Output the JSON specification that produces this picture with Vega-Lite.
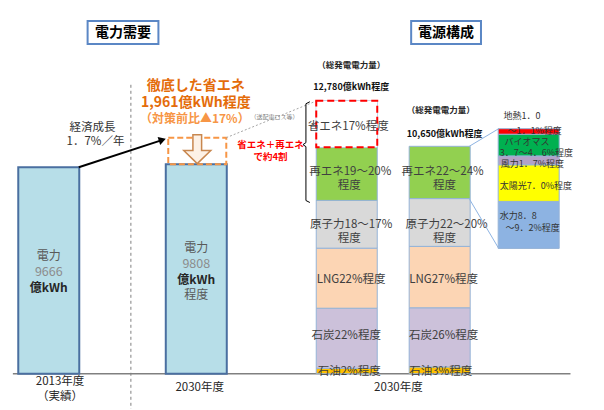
{
  "$schema": "https://vega.github.io/schema/vega-lite/v6.json",
  "width": 604,
  "height": 410,
  "autosize": {"type": "fit", "contains": "padding"},
  "padding": 0,
  "background": "white",
  "config": {"view": {"stroke": null}, "font": "Noto Sans CJK JP", "text": {"font": "Noto Sans CJK JP"}},
  "resolve": {"scale": {"y": "independent", "fill": "independent"}},
  "layer": [
    {
      "layer": [
        {
          "data": {"values": [{"x": 128, "y": 13530, "y2": -1650}]},
          "mark": {"type": "rule", "stroke": "#7f7f7f", "strokeDash": [3, 3], "strokeWidth": 1},
          "encoding": {
            "x": {"field": "x", "type": "quantitative", "scale": {"domain": [0, 604], "nice": false, "zero": false}, "axis": null},
            "y": {"field": "y", "type": "quantitative", "scale": {"domain": [-1650, 17500], "nice": false, "zero": false}, "axis": null},
            "y2": {"field": "y2"}
          }
        },
        {
          "data": {"values": [{"x": 8, "x2": 575, "y": 0}]},
          "mark": {"type": "rule", "stroke": "#808080", "strokeWidth": 1.5},
          "encoding": {
            "x": {"field": "x", "type": "quantitative", "scale": {"domain": [0, 604], "nice": false, "zero": false}, "axis": null},
            "x2": {"field": "x2"},
            "y": {"field": "y", "type": "quantitative", "scale": {"domain": [-1650, 17500], "nice": false, "zero": false}, "axis": null}
          }
        },
        {
          "data": {"values": [{"year": "2013年度", "x": 44.5, "y": 9666}, {"year": "2030年度", "x": 194.5, "y": 9808}]},
          "mark": {"type": "bar", "width": 61, "fill": "#b7dee8", "stroke": "#4a6fa0", "strokeWidth": 2},
          "encoding": {
            "x": {"field": "x", "type": "quantitative", "scale": {"domain": [0, 604], "nice": false, "zero": false}, "axis": null},
            "y": {"field": "y", "type": "quantitative", "scale": {"domain": [-1650, 17500], "nice": false, "zero": false}, "axis": null},
            "y2": {"datum": 0}
          }
        },
        {
          "data": {"values": [{"x": 166, "x2": 225, "y": 9808, "y2": 11054}]},
          "mark": {"type": "rect", "fill": "white", "fillOpacity": 0, "stroke": "#f79646", "strokeDash": [6, 3], "strokeWidth": 2},
          "encoding": {
            "x": {"field": "x", "type": "quantitative", "scale": {"domain": [0, 604], "nice": false, "zero": false}, "axis": null},
            "x2": {"field": "x2"},
            "y": {"field": "y", "type": "quantitative", "scale": {"domain": [-1650, 17500], "nice": false, "zero": false}, "axis": null},
            "y2": {"field": "y2"}
          }
        },
        {
          "data": {"values": [{"x": 195.5, "y": 10517}]},
          "mark": {"type": "point", "shape": "M-0.3,-1 L0.3,-1 L0.3,0.1 L0.93,0.1 L0,1 L-0.93,0.1 L-0.3,0.1 Z", "size": 841, "filled": true, "fill": "#fdf1e6", "stroke": "#c8874f", "strokeWidth": 1.5, "opacity": 1},
          "encoding": {
            "x": {"field": "x", "type": "quantitative", "scale": {"domain": [0, 604], "nice": false, "zero": false}, "axis": null},
            "y": {"field": "y", "type": "quantitative", "scale": {"domain": [-1650, 17500], "nice": false, "zero": false}, "axis": null}
          }
        },
        {
          "data": {"values": [{"x": 75, "y": 9666, "o": 1}, {"x": 158, "y": 10914, "o": 2}]},
          "mark": {"type": "line", "stroke": "black", "strokeWidth": 2},
          "encoding": {
            "x": {"field": "x", "type": "quantitative", "scale": {"domain": [0, 604], "nice": false, "zero": false}, "axis": null},
            "y": {"field": "y", "type": "quantitative", "scale": {"domain": [-1650, 17500], "nice": false, "zero": false}, "axis": null},
            "order": {"field": "o"}
          }
        },
        {
          "data": {"values": [{"x": 160, "y": 10947}]},
          "mark": {"type": "point", "shape": "triangle-right", "angle": 342, "size": 70, "filled": true, "fill": "black", "opacity": 1},
          "encoding": {
            "x": {"field": "x", "type": "quantitative", "scale": {"domain": [0, 604], "nice": false, "zero": false}, "axis": null},
            "y": {"field": "y", "type": "quantitative", "scale": {"domain": [-1650, 17500], "nice": false, "zero": false}, "axis": null}
          }
        },
        {
          "data": {"values": [{"x": 225, "y": 11054, "x2": 317, "y2": 12780}]},
          "mark": {"type": "rule", "stroke": "#a6a6a6", "strokeDash": [2, 2], "strokeWidth": 1},
          "encoding": {
            "x": {"field": "x", "type": "quantitative", "scale": {"domain": [0, 604], "nice": false, "zero": false}, "axis": null},
            "x2": {"field": "x2"},
            "y": {"field": "y", "type": "quantitative", "scale": {"domain": [-1650, 17500], "nice": false, "zero": false}, "axis": null},
            "y2": {"field": "y2"}
          }
        },
        {
          "data": {"values": [
            {"x": 310, "y": 12736, "o": 1},
            {"x": 306, "y": 12642, "o": 2},
            {"x": 306, "y": 10821, "o": 3},
            {"x": 303, "y": 10727, "o": 4},
            {"x": 306, "y": 10634, "o": 5},
            {"x": 306, "y": 8112, "o": 6},
            {"x": 310, "y": 8018, "o": 7}
          ]},
          "mark": {"type": "line", "stroke": "black", "strokeWidth": 1},
          "encoding": {
            "x": {"field": "x", "type": "quantitative", "scale": {"domain": [0, 604], "nice": false, "zero": false}, "axis": null},
            "y": {"field": "y", "type": "quantitative", "scale": {"domain": [-1650, 17500], "nice": false, "zero": false}, "axis": null},
            "order": {"field": "o"}
          }
        },
        {
          "data": {"values": [
            {"bar": "A", "x": 347.5, "source": "石油", "order": 1, "pct": 2, "value": 256},
            {"bar": "A", "x": 347.5, "source": "石炭", "order": 2, "pct": 22, "value": 2812},
            {"bar": "A", "x": 347.5, "source": "LNG", "order": 3, "pct": 22, "value": 2812},
            {"bar": "A", "x": 347.5, "source": "原子力", "order": 4, "pct": 17.5, "value": 2237},
            {"bar": "A", "x": 347.5, "source": "再エネ", "order": 5, "pct": 19.5, "value": 2492},
            {"bar": "A", "x": 347.5, "source": "省エネ", "order": 6, "pct": 17, "value": 2171},
            {"bar": "B", "x": 442, "source": "石油", "order": 1, "pct": 3, "value": 320},
            {"bar": "B", "x": 442, "source": "石炭", "order": 2, "pct": 26, "value": 2769},
            {"bar": "B", "x": 442, "source": "LNG", "order": 3, "pct": 27, "value": 2876},
            {"bar": "B", "x": 442, "source": "原子力", "order": 4, "pct": 21, "value": 2237},
            {"bar": "B", "x": 442, "source": "再エネ", "order": 5, "pct": 23, "value": 2448}
          ]},
          "transform": [{"stack": "value", "groupby": ["bar"], "sort": [{"field": "order", "order": "ascending"}], "as": ["v0", "v1"]}],
          "layer": [
            {
              "mark": {"type": "bar", "width": 61, "stroke": "#95b3d7", "strokeWidth": 1},
              "encoding": {
                "x": {"field": "x", "type": "quantitative", "scale": {"domain": [0, 604], "nice": false, "zero": false}, "axis": null},
                "y": {"field": "v0", "type": "quantitative", "scale": {"domain": [-1650, 17500], "nice": false, "zero": false}, "axis": null},
                "y2": {"field": "v1"},
                "fill": {"field": "source", "type": "nominal", "scale": {"domain": ["省エネ", "再エネ", "原子力", "LNG", "石炭", "石油"], "range": ["#ffffff", "#92d050", "#d9d9d9", "#fcd5b4", "#ccc1da", "#ffc000"]}, "legend": null}
              }
            },
            {
              "transform": [{"filter": "datum.source === '省エネ'"}],
              "mark": {"type": "bar", "width": 61, "fill": "white", "stroke": "#ff0000", "strokeWidth": 2, "strokeDash": [7, 4]},
              "encoding": {
                "x": {"field": "x", "type": "quantitative", "scale": {"domain": [0, 604], "nice": false, "zero": false}, "axis": null},
                "y": {"field": "v0", "type": "quantitative", "scale": {"domain": [-1650, 17500], "nice": false, "zero": false}, "axis": null},
                "y2": {"field": "v1"}
              }
            }
          ]
        },
        {
          "data": {"values": [{"x": 84, "x2": 156, "y": 16519, "y2": 15445}, {"x": 413, "x2": 484, "y": 16519, "y2": 15445}]},
          "mark": {"type": "rect", "fill": "white", "stroke": "#5b87c5", "strokeWidth": 2},
          "encoding": {
            "x": {"field": "x", "type": "quantitative", "scale": {"domain": [0, 604], "nice": false, "zero": false}, "axis": null},
            "x2": {"field": "x2"},
            "y": {"field": "y", "type": "quantitative", "scale": {"domain": [-1650, 17500], "nice": false, "zero": false}, "axis": null},
            "y2": {"field": "y2"}
          }
        },
        {
          "data": {"values": [{"t": "電力需要", "x": 120, "y": 15958}, {"t": "電源構成", "x": 448.5, "y": 15958}]},
          "mark": {"type": "text", "fontSize": 14, "fontWeight": "bold", "fill": "black", "baseline": "middle", "align": "center"},
          "encoding": {
            "x": {"field": "x", "type": "quantitative", "scale": {"domain": [0, 604], "nice": false, "zero": false}, "axis": null},
            "y": {"field": "y", "type": "quantitative", "scale": {"domain": [-1650, 17500], "nice": false, "zero": false}, "axis": null},
            "text": {"field": "t"}
          }
        },
        {
          "data": {"values": [{"t": "徹底した省エネ", "x": 194, "y": 13483}, {"t": "1,961億kWh程度", "x": 194, "y": 12689}]},
          "mark": {"type": "text", "fontSize": 14, "fontWeight": "bold", "fill": "#e46c0a", "baseline": "middle", "align": "center"},
          "encoding": {
            "x": {"field": "x", "type": "quantitative", "scale": {"domain": [0, 604], "nice": false, "zero": false}, "axis": null},
            "y": {"field": "y", "type": "quantitative", "scale": {"domain": [-1650, 17500], "nice": false, "zero": false}, "axis": null},
            "text": {"field": "t"}
          }
        },
        {
          "data": {"values": [{"t": "（対策前比▲17%）", "x": 193, "y": 11942}]},
          "mark": {"type": "text", "fontSize": 12, "fontWeight": "bold", "fill": "#f79646", "baseline": "middle", "align": "center"},
          "encoding": {
            "x": {"field": "x", "type": "quantitative", "scale": {"domain": [0, 604], "nice": false, "zero": false}, "axis": null},
            "y": {"field": "y", "type": "quantitative", "scale": {"domain": [-1650, 17500], "nice": false, "zero": false}, "axis": null},
            "text": {"field": "t"}
          }
        },
        {
          "data": {"values": [{"t": "（送配電ロス等）", "x": 274, "y": 12035}]},
          "mark": {"type": "text", "fontSize": 6, "fill": "#7f7f7f", "baseline": "middle", "align": "center"},
          "encoding": {
            "x": {"field": "x", "type": "quantitative", "scale": {"domain": [0, 604], "nice": false, "zero": false}, "axis": null},
            "y": {"field": "y", "type": "quantitative", "scale": {"domain": [-1650, 17500], "nice": false, "zero": false}, "axis": null},
            "text": {"field": "t"}
          }
        },
        {
          "data": {"values": [{"t": "省エネ＋再エネ", "x": 270, "y": 10727}, {"t": "で約4割", "x": 270, "y": 10167}]},
          "mark": {"type": "text", "fontSize": 9.5, "fontWeight": "bold", "fill": "#ff0000", "baseline": "middle", "align": "center"},
          "encoding": {
            "x": {"field": "x", "type": "quantitative", "scale": {"domain": [0, 604], "nice": false, "zero": false}, "axis": null},
            "y": {"field": "y", "type": "quantitative", "scale": {"domain": [-1650, 17500], "nice": false, "zero": false}, "axis": null},
            "text": {"field": "t"}
          }
        },
        {
          "data": {"values": [
            {"t": "経済成長", "x": 89, "y": 11521},
            {"t": "1．7%／年", "x": 92, "y": 10867}
          ]},
          "mark": {"type": "text", "fontSize": 11.5, "fill": "#333333", "baseline": "middle", "align": "center"},
          "encoding": {
            "x": {"field": "x", "type": "quantitative", "scale": {"domain": [0, 604], "nice": false, "zero": false}, "axis": null},
            "y": {"field": "y", "type": "quantitative", "scale": {"domain": [-1650, 17500], "nice": false, "zero": false}, "axis": null},
            "text": {"field": "t"}
          }
        },
        {
          "data": {"values": [
            {"t": "2013年度", "x": 56, "y": -389},
            {"t": "（実績）", "x": 56, "y": -1066},
            {"t": "2030年度", "x": 198, "y": -669},
            {"t": "2030年度", "x": 400, "y": -669}
          ]},
          "mark": {"type": "text", "fontSize": 11.5, "fill": "#262626", "baseline": "middle", "align": "center"},
          "encoding": {
            "x": {"field": "x", "type": "quantitative", "scale": {"domain": [0, 604], "nice": false, "zero": false}, "axis": null},
            "y": {"field": "y", "type": "quantitative", "scale": {"domain": [-1650, 17500], "nice": false, "zero": false}, "axis": null},
            "text": {"field": "t"}
          }
        },
        {
          "data": {"values": [
            {"t": "電力", "x": 44.5, "y": 5496},
            {"t": "電力", "x": 194.5, "y": 5870},
            {"t": "程度", "x": 194.5, "y": 3675}
          ]},
          "mark": {"type": "text", "fontSize": 12, "fill": "#595959", "baseline": "middle", "align": "center"},
          "encoding": {
            "x": {"field": "x", "type": "quantitative", "scale": {"domain": [0, 604], "nice": false, "zero": false}, "axis": null},
            "y": {"field": "y", "type": "quantitative", "scale": {"domain": [-1650, 17500], "nice": false, "zero": false}, "axis": null},
            "text": {"field": "t"}
          }
        },
        {
          "data": {"values": [
            {"t": "9666", "x": 44.5, "y": 4749},
            {"t": "9808", "x": 194.5, "y": 5123}
          ]},
          "mark": {"type": "text", "fontSize": 12.5, "fill": "#8c8c8c", "baseline": "middle", "align": "center", "letterSpacing": 1},
          "encoding": {
            "x": {"field": "x", "type": "quantitative", "scale": {"domain": [0, 604], "nice": false, "zero": false}, "axis": null},
            "y": {"field": "y", "type": "quantitative", "scale": {"domain": [-1650, 17500], "nice": false, "zero": false}, "axis": null},
            "text": {"field": "t"}
          }
        },
        {
          "data": {"values": [
            {"t": "億kWh", "x": 44.5, "y": 4002},
            {"t": "億kWh", "x": 194.5, "y": 4375}
          ]},
          "mark": {"type": "text", "fontSize": 12, "fontWeight": "bold", "fill": "#262626", "baseline": "middle", "align": "center"},
          "encoding": {
            "x": {"field": "x", "type": "quantitative", "scale": {"domain": [0, 604], "nice": false, "zero": false}, "axis": null},
            "y": {"field": "y", "type": "quantitative", "scale": {"domain": [-1650, 17500], "nice": false, "zero": false}, "axis": null},
            "text": {"field": "t"}
          }
        },
        {
          "data": {"values": [
            {"t": "（総発電電力量）", "x": 352, "y": 14464},
            {"t": "（総発電電力量）", "x": 443, "y": 12362}
          ]},
          "mark": {"type": "text", "fontSize": 8.5, "fontWeight": "bold", "fill": "#262626", "baseline": "middle", "align": "center"},
          "encoding": {
            "x": {"field": "x", "type": "quantitative", "scale": {"domain": [0, 604], "nice": false, "zero": false}, "axis": null},
            "y": {"field": "y", "type": "quantitative", "scale": {"domain": [-1650, 17500], "nice": false, "zero": false}, "axis": null},
            "text": {"field": "t"}
          }
        },
        {
          "data": {"values": [
            {"t": "12,780億kWh程度", "x": 352, "y": 13436},
            {"t": "10,650億kWh程度", "x": 447, "y": 11241}
          ]},
          "mark": {"type": "text", "fontSize": 9, "fontWeight": "bold", "fill": "#111111", "baseline": "middle", "align": "center"},
          "encoding": {
            "x": {"field": "x", "type": "quantitative", "scale": {"domain": [0, 604], "nice": false, "zero": false}, "axis": null},
            "y": {"field": "y", "type": "quantitative", "scale": {"domain": [-1650, 17500], "nice": false, "zero": false}, "axis": null},
            "text": {"field": "t"}
          }
        },
        {
          "data": {"values": [
            {"t": "省エネ17%程度", "x": 349, "y": 11568},
            {"t": "再エネ19～20%", "x": 351, "y": 9466},
            {"t": "程度", "x": 350, "y": 8812},
            {"t": "原子力18～17%", "x": 352, "y": 6944},
            {"t": "程度", "x": 350, "y": 6290},
            {"t": "LNG22%程度", "x": 352, "y": 4375},
            {"t": "石炭22%程度", "x": 347, "y": 1760},
            {"t": "石油2%程度", "x": 350, "y": 78},
            {"t": "再エネ22～24%", "x": 445, "y": 9466},
            {"t": "程度", "x": 447, "y": 8812},
            {"t": "原子力22～20%", "x": 449, "y": 6944},
            {"t": "程度", "x": 447, "y": 6290},
            {"t": "LNG27%程度", "x": 446, "y": 4375},
            {"t": "石炭26%程度", "x": 446, "y": 1760},
            {"t": "石油3%程度", "x": 443, "y": 78}
          ]},
          "mark": {"type": "text", "fontSize": 11.5, "fill": "#404040", "baseline": "middle", "align": "center"},
          "encoding": {
            "x": {"field": "x", "type": "quantitative", "scale": {"domain": [0, 604], "nice": false, "zero": false}, "axis": null},
            "y": {"field": "y", "type": "quantitative", "scale": {"domain": [-1650, 17500], "nice": false, "zero": false}, "axis": null},
            "text": {"field": "t"}
          }
        }
      ]
    },
    {
      "layer": [
        {
          "data": {"values": [{"x": 472, "y": 19.52, "x2": 502, "y2": 22.9}, {"x": 472, "y": 9.52, "x2": 502, "y2": 0}]},
          "mark": {"type": "rule", "stroke": "#8eb4e3", "strokeWidth": 1},
          "encoding": {
            "x": {"field": "x", "type": "quantitative", "scale": {"domain": [0, 604], "nice": false, "zero": false}, "axis": null},
            "x2": {"field": "x2"},
            "y": {"field": "y", "type": "quantitative", "scale": {"domain": [-30.72, 47.52], "nice": false, "zero": false}, "axis": null},
            "y2": {"field": "y2"}
          }
        },
        {
          "data": {"values": [
            {"bar": "R", "x": 532.5, "source": "水力", "order": 1, "value": 9.0},
            {"bar": "R", "x": 532.5, "source": "太陽光", "order": 2, "value": 7.0},
            {"bar": "R", "x": 532.5, "source": "風力", "order": 3, "value": 1.7},
            {"bar": "R", "x": 532.5, "source": "バイオマス", "order": 4, "value": 4.15},
            {"bar": "R", "x": 532.5, "source": "地熱", "order": 5, "value": 1.05}
          ]},
          "transform": [{"stack": "value", "groupby": ["bar"], "sort": [{"field": "order", "order": "ascending"}], "as": ["v0", "v1"]}],
          "mark": {"type": "bar", "width": 61, "stroke": "#95b3d7", "strokeWidth": 1},
          "encoding": {
            "x": {"field": "x", "type": "quantitative", "scale": {"domain": [0, 604], "nice": false, "zero": false}, "axis": null},
            "y": {"field": "v0", "type": "quantitative", "scale": {"domain": [-30.72, 47.52], "nice": false, "zero": false}, "axis": null},
            "y2": {"field": "v1"},
            "fill": {"field": "source", "type": "nominal", "scale": {"domain": ["地熱", "バイオマス", "風力", "太陽光", "水力"], "range": ["#ff0000", "#00b050", "#b3a2c7", "#ffff00", "#8db3e2"]}, "legend": null}
          }
        },
        {
          "data": {"values": [
            {"t": "地熱1．0", "x": 507, "y": 25.29},
            {"t": "～1．1%程度", "x": 511, "y": 22.52},
            {"t": "バイオマス", "x": 508, "y": 20.42},
            {"t": "3．7～4．6%程度", "x": 503, "y": 18.32},
            {"t": "風力1．7%程度", "x": 504, "y": 16.13},
            {"t": "太陽光7．0%程度", "x": 503, "y": 12.02},
            {"t": "水力8．8", "x": 503, "y": 6.2},
            {"t": "～9．2%程度", "x": 509, "y": 3.91}
          ]},
          "mark": {"type": "text", "fontSize": 9, "fill": "#333333", "baseline": "middle", "align": "left"},
          "encoding": {
            "x": {"field": "x", "type": "quantitative", "scale": {"domain": [0, 604], "nice": false, "zero": false}, "axis": null},
            "y": {"field": "y", "type": "quantitative", "scale": {"domain": [-30.72, 47.52], "nice": false, "zero": false}, "axis": null},
            "text": {"field": "t"}
          }
        }
      ]
    }
  ]
}
